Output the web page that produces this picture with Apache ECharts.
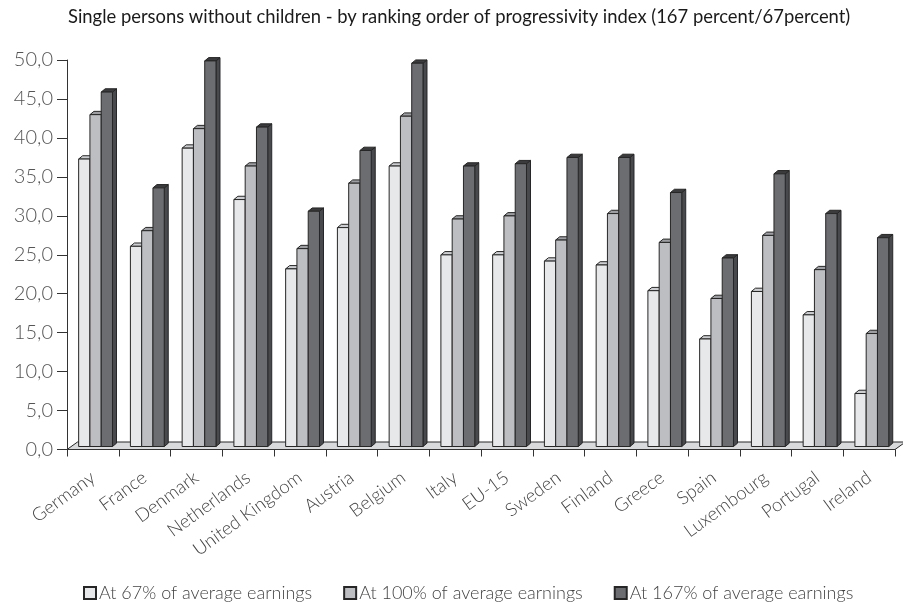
<!DOCTYPE html>
<html>
<head>
<meta charset="utf-8">
<script src="https://cdn.jsdelivr.net/npm/echarts@6/dist/echarts.min.js"></script>
<style>
  html, body { margin: 0; padding: 0; background: #fff; }
  #chart { width: 903px; height: 603px; }
</style>
</head>
<body>
<div id="chart"></div>
<script>
// Countries, ordered by the 167%/67% progressivity index
const categories = ['Germany', 'France', 'Denmark', 'Netherlands', 'United Kingdom', 'Austria',
  'Belgium', 'Italy', 'EU-15', 'Sweden', 'Finland', 'Greece', 'Spain', 'Luxembourg', 'Portugal', 'Ireland'];

const seriesNames = ['At 67% of average earnings', 'At 100% of average earnings', 'At 167% of average earnings'];

const at67 = [36.9, 25.7, 38.3, 31.7, 22.8, 28.1, 36.0, 24.6, 24.6, 23.8, 23.3, 20.0, 13.8, 19.9, 16.9, 6.8];
const at100 = [42.6, 27.7, 40.8, 36.0, 25.4, 33.8, 42.4, 29.2, 29.6, 26.5, 29.9, 26.2, 19.0, 27.1, 22.7, 14.5];
const at167 = [45.5, 33.2, 49.5, 41.0, 30.2, 38.0, 49.2, 36.0, 36.3, 37.1, 37.1, 32.6, 24.2, 35.0, 29.9, 26.8];

const yTicks = [0, 5, 10, 15, 20, 25, 30, 35, 40, 45, 50];

// Face colours for each series: front, top cap, side
const faces = [
  { front: '#e7e8ea', top: '#cdced1', side: '#aeafb2' },
  { front: '#bdbec2', top: '#9d9ea2', side: '#8d8e92' },
  { front: '#6c6d71', top: '#3b3b3e', side: '#48494c' }
];

// Pseudo-3D geometry (pixels)
const FRONT_DX = 2.7, FRONT_DY = -3;   // bars stand halfway back on the floor
const DEPTH_DX = 4, DEPTH_DY = -3.3;   // bar depth
const FLOOR_DX = 10.5, FLOOR_DY = -7.5; // floor depth
const STROKE = '#262626';

function barRenderer(s) {
  return function (params, api) {
    const idx = api.value(0);
    const v = api.value(1);
    const base = api.coord([idx, 0]);
    const top = api.coord([idx, v]);
    const band = api.size([1, 0])[0];
    const bw = band * 0.218;
    const x0 = base[0] + FRONT_DX + (s - 1.5) * bw;
    const x1 = x0 + bw;
    const yb = base[1] + FRONT_DY;
    const yt = top[1] + FRONT_DY;
    const f = faces[s];
    const line = { stroke: STROKE, lineWidth: 1 };
    return {
      type: 'group',
      children: [
        { type: 'polygon', shape: { points: [[x1, yt], [x1 + DEPTH_DX, yt + DEPTH_DY], [x1 + DEPTH_DX, yb + DEPTH_DY], [x1, yb]] },
          style: Object.assign({ fill: f.side }, line) },
        { type: 'polygon', shape: { points: [[x0, yt], [x1, yt], [x1 + DEPTH_DX, yt + DEPTH_DY], [x0 + DEPTH_DX, yt + DEPTH_DY]] },
          style: Object.assign({ fill: f.top }, line) },
        { type: 'rect', shape: { x: x0, y: yt, width: bw, height: yb - yt },
          style: Object.assign({ fill: f.front }, line) }
      ]
    };
  };
}

function floorRenderer(params, api) {
  const cs = params.coordSys;
  const yb = cs.y + cs.height;
  const xl = cs.x, xr = cs.x + cs.width;
  return {
    type: 'polygon',
    shape: { points: [[xl, yb], [xr, yb], [xr + FLOOR_DX, yb + FLOOR_DY], [xl + FLOOR_DX, yb + FLOOR_DY]] },
    style: { fill: '#d9dadc', stroke: STROKE, lineWidth: 1 },
    silent: true
  };
}

const values = [at67, at100, at167];
const FONT = 'Lato, "Open Sans", "DejaVu Sans", sans-serif';

const series = [{
  type: 'custom',
  name: '__floor',
  renderItem: floorRenderer,
  data: [[0, 0]],
  z: 1,
  silent: true
}].concat(values.map(function (vals, s) {
  return {
    type: 'custom',
    name: seriesNames[s],
    renderItem: barRenderer(s),
    encode: { x: 0, y: 1 },
    data: vals.map(function (v, i) { return [i, v]; }),
    itemStyle: { color: faces[s].front, borderColor: STROKE, borderWidth: 1 },
    z: 2 + s
  };
}));

const chart = echarts.init(document.getElementById('chart'), null, { renderer: 'canvas' });
chart.setOption({
  animation: false,
  backgroundColor: '#ffffff',
  textStyle: { fontFamily: FONT },
  title: {
    text: 'Single persons without children - by ranking order of progressivity index (167 percent/67percent)',
    left: 63,
    top: 3,
    textStyle: { fontFamily: FONT, fontSize: 18.4, fontWeight: 'normal', color: '#1a1a1a' }
  },
  legend: {
    data: seriesNames,
    top: 579,
    left: 78,
    icon: 'rect',
    itemWidth: 12,
    itemHeight: 12,
    itemGap: 31,
    textStyle: { fontFamily: FONT, fontSize: 18, fontWeight: 300, color: '#444', padding: [0, 0, 0, -2] }
  },
  grid: { left: 67, right: 8, top: 60, bottom: 153.5, containLabel: false },
  xAxis: {
    type: 'category',
    data: categories,
    boundaryGap: true,
    axisLine: { show: true, lineStyle: { color: '#333', width: 1 } },
    axisTick: { show: true, length: 7, lineStyle: { color: '#333' } },
    axisLabel: { interval: 0, rotate: 36, margin: 26, fontSize: 18.5, fontWeight: 300, color: '#444', fontFamily: FONT },
    splitLine: { show: false },
    z: 10
  },
  yAxis: {
    type: 'value',
    min: yTicks[0],
    max: yTicks[yTicks.length - 1],
    interval: yTicks[1] - yTicks[0],
    axisLine: { show: true, lineStyle: { color: '#333', width: 1 } },
    axisTick: { show: true, length: 10, lineStyle: { color: '#333' } },
    axisLabel: {
      margin: 14, fontSize: 20, fontWeight: 300, color: '#555', fontFamily: FONT,
      formatter: function (v) { return v.toFixed(1).replace('.', ','); }
    },
    splitLine: { show: false },
    z: 10
  },
  series: series
});
</script>
</body>
</html>
